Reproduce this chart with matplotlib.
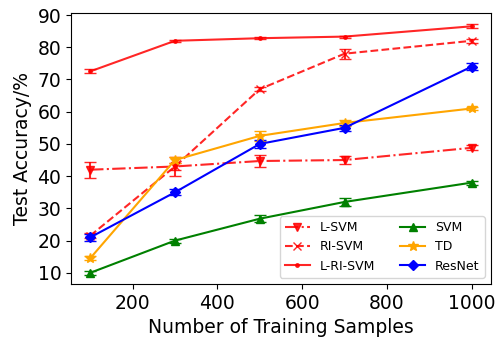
import matplotlib
matplotlib.use("Agg")
import matplotlib.pyplot as plt
from matplotlib.lines import Line2D

# training sample counts
samples = [100, 300, 500, 700, 1000]

# accuracies (%) and error bars
l_svm = [42.0, 43.0, 44.7, 45.0, 48.8]
l_svm_err = [2.5, 1.0, 1.8, 1.2, 0.8]
ri_svm = [21.5, 43.0, 67.0, 78.0, 82.0]
ri_svm_err = [0.8, 3.0, 0.6, 1.5, 0.6]
l_ri_svm = [72.5, 82.0, 82.8, 83.3, 86.5]
l_ri_svm_err = [0.6, 0.3, 0.3, 0.3, 0.6]
svm = [10.0, 20.0, 26.8, 32.0, 38.0]
svm_err = [0.6, 0.6, 1.0, 1.2, 0.6]
td = [14.5, 45.0, 52.5, 56.5, 61.0]
td_err = [0.6, 1.0, 1.5, 1.0, 0.6]
resnet = [21.0, 35.0, 50.0, 55.0, 74.0]
resnet_err = [1.0, 1.0, 1.2, 1.0, 1.0]

series = [
    ('L-SVM', l_svm, l_svm_err, 'red', '-.', 'v', 6, 0.85),
    ('RI-SVM', ri_svm, ri_svm_err, 'red', '--', 'x', 6, 0.85),
    ('L-RI-SVM', l_ri_svm, l_ri_svm_err, 'red', '-', '.', 5, 0.85),
    ('SVM', svm, svm_err, 'green', '-', '^', 6, 1.0),
    ('TD', td, td_err, 'orange', '-', '*', 7, 1.0),
    ('ResNet', resnet, resnet_err, 'blue', '-', 'D', 5, 1.0),
]

fig, ax = plt.subplots(figsize=(5.04, 3.44), dpi=100)

handles = []
for name, vals, err, col, ls, mk, ms, al in series:
    ax.errorbar(samples, vals, yerr=err, color=col, linestyle=ls,
                marker=mk, markersize=ms, capsize=4, alpha=al)
    handles.append(Line2D([], [], color=col, linestyle=ls, marker=mk,
                          markersize=ms, alpha=al, label=name))

ax.set_xlim(55, 1045)
ax.set_ylim(6.6, 90.6)
ax.set_xticks([200, 400, 600, 800, 1000])
ax.set_yticks([10, 20, 30, 40, 50, 60, 70, 80, 90])
ax.tick_params(labelsize=13.5)
ax.set_xlabel('Number of Training Samples', fontsize=13.5)
ax.set_ylabel('Test Accuracy/%', fontsize=13.5)
ax.legend(handles=handles, loc='lower right', ncol=2, fontsize=9)

fig.subplots_adjust(left=0.141, right=0.974, top=0.962, bottom=0.175)
fig.savefig('out.png', dpi=100)
